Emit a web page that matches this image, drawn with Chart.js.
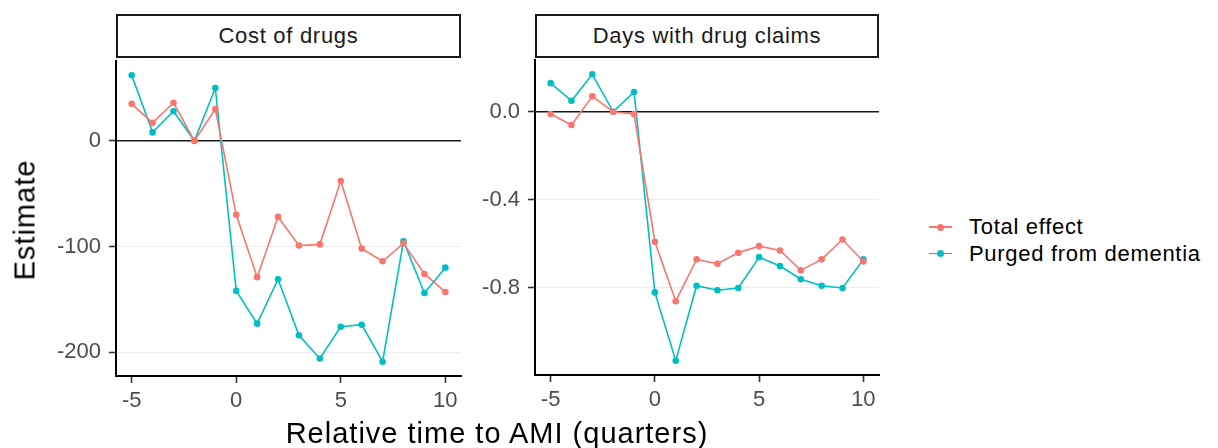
<!DOCTYPE html>
<html>
<head>
<meta charset="utf-8">
<script src="https://cdn.jsdelivr.net/npm/chart.js@4/dist/chart.umd.min.js"></script>
<style>
  body { margin: 0; background: #fff; }
  #wrap { position: relative; width: 1218px; height: 448px; overflow: hidden; font-family: "Liberation Sans", Arial, sans-serif; }
  canvas { position: absolute; top: 0; }
  .strip { position: absolute; top: 14px; height: 44px; box-sizing: border-box; border: 2px solid #1a1a1a; background: #fff;
           display: flex; align-items: center; justify-content: center; font-size: 22px; letter-spacing: 0.7px; color: #1a1a1a; }
  .title { position: absolute; font-size: 29px; line-height: 29px; letter-spacing: 1px; color: #000; white-space: nowrap; }
  .leg { position: absolute; left: 929px; height: 24px; display: flex; align-items: center; white-space: nowrap; }
  .leg .key { position: relative; width: 23px; height: 24px; margin-right: 17px; }
  .leg .key .ln { position: absolute; left: 0; right: 0; top: 11px; height: 1.7px; }
  .leg .key .pt { position: absolute; left: 8px; top: 8.5px; width: 7px; height: 7px; border-radius: 50%; }
  .leg span { font-size: 22px; letter-spacing: 0.7px; color: #000; }
</style>
</head>
<body>
<div id="wrap">
  <canvas id="c1" width="470" height="448" style="left:0px"></canvas>
  <canvas id="c2" width="435" height="448" style="left:465px"></canvas>
</div>
<script>
// data
const quarters = [-5, -4, -3, -2, -1, 0, 1, 2, 3, 4, 5, 6, 7, 8, 9, 10];
const costTotal = [35, 17, 36, 0, 30, -70, -129, -72, -99, -98, -38, -102, -114, -97, -126, -143];
const costPurged = [62, 8, 28, 0, 50, -142, -173, -131, -184, -206, -176, -174, -209, -95, -144, -120];
const daysTotal = [-0.01, -0.06, 0.07, 0.0, -0.01, -0.59, -0.86, -0.67, -0.69, -0.64, -0.61, -0.63, -0.72, -0.67, -0.58, -0.68];
const daysPurged = [0.13, 0.05, 0.17, 0.0, 0.09, -0.82, -1.13, -0.79, -0.81, -0.80, -0.66, -0.70, -0.76, -0.79, -0.80, -0.67];

const seriesNames = ['Total effect', 'Purged from dementia'];
const seriesColors = ['#F8766D', '#00BFC4'];
const panelTitles = ['Cost of drugs', 'Days with drug claims'];
const xTicks = [-5, 0, 5, 10];
const costTicks = [-200, -100, 0];
const daysTicks = [-0.8, -0.4, 0.0];

const FONT = "'Liberation Sans', Arial, sans-serif";

// ggplot style 5% expansion
function expand(vals) {
    let lo = Math.min(...vals), hi = Math.max(...vals);
    let d = (hi - lo) * 0.05;
    return [lo - d, hi + d];
}

const zeroLine = {
    id: 'zeroLine',
    beforeDatasetsDraw(chart) {
        const ctx = chart.ctx, a = chart.chartArea;
        const y = chart.scales.y.getPixelForValue(0);
        ctx.save();
        ctx.strokeStyle = '#1a1a1a';
        ctx.lineWidth = 1.5;
        ctx.beginPath();
        ctx.moveTo(a.left, y);
        ctx.lineTo(a.right, y);
        ctx.stroke();
        ctx.restore();
    }
};

function panel(id, total, purged, yTicks, fmt, box) {
    const xr = expand(quarters);
    const yr = expand(total.concat(purged));
    const sets = [total, purged].map(function(vals, i) {
        return {
            label: seriesNames[i],
            data: quarters.map(function(q, k) { return { x: q, y: vals[k] }; }),
            borderColor: seriesColors[i],
            backgroundColor: seriesColors[i],
            pointBackgroundColor: seriesColors[i],
            borderWidth: 1.6,
            pointRadius: 3.3,
            pointBorderWidth: 0,
            tension: 0
        };
    });
    return new Chart(document.getElementById(id), {
        type: 'line',
        data: { datasets: sets },
        plugins: [zeroLine],
        options: {
            responsive: false,
            animation: false,
            devicePixelRatio: 1,
            layout: { padding: { top: box.top, right: box.right, left: 0, bottom: 0 } },
            plugins: { legend: { display: false }, tooltip: { enabled: false } },
            scales: {
                x: {
                    type: 'linear',
                    min: xr[0], max: xr[1],
                    afterBuildTicks: function(s) { s.ticks = xTicks.map(function(v) { return { value: v }; }); },
                    afterFit: function(s) { s.height = box.xh; },
                    border: { display: true, color: '#000', width: 2 },
                    grid: { drawOnChartArea: false, drawTicks: true, tickLength: 7, tickColor: '#333', tickWidth: 1.6 },
                    ticks: { color: '#4D4D4D', padding: 5, maxRotation: 0, font: { family: FONT, size: 22 } }
                },
                y: {
                    min: yr[0], max: yr[1],
                    afterBuildTicks: function(s) { s.ticks = yTicks.map(function(v) { return { value: v }; }); },
                    afterFit: function(s) { s.width = box.yw; },
                    border: { display: true, color: '#000', width: 2 },
                    grid: { color: '#EDEDED', lineWidth: 1, tickLength: 7, tickColor: '#333', tickWidth: 1.6 },
                    ticks: { color: '#4D4D4D', padding: 8, font: { family: FONT, size: 22 }, callback: fmt }
                }
            }
        }
    });
}

panel('c1', costTotal, costPurged, costTicks, function(v) { return String(v); }, { top: 61, right: 9, xh: 72, yw: 116 });
panel('c2', daysTotal, daysPurged, daysTicks, function(v) { return v.toFixed(1); }, { top: 60, right: 21, xh: 73, yw: 70 });

// strips, axis titles and legend
const wrap = document.getElementById('wrap');
const strips = [{ left: 116, width: 345 }, { left: 535, width: 344 }];
panelTitles.forEach(function(t, i) {
    wrap.insertAdjacentHTML('beforeend', '<div class="strip" style="left:' + strips[i].left + 'px;width:' + strips[i].width + 'px">' + t + '</div>');
});
wrap.insertAdjacentHTML('beforeend', '<div class="title" style="left:25px;top:220px;transform:translate(-50%,-50%) rotate(-90deg)">Estimate</div>');
wrap.insertAdjacentHTML('beforeend', '<div class="title" style="left:497px;top:419px;transform:translateX(-50%)">Relative time to AMI (quarters)</div>');
seriesNames.forEach(function(n, i) {
    wrap.insertAdjacentHTML('beforeend',
        '<div class="leg" style="top:' + (215 + i * 26.5) + 'px"><div class="key"><div class="ln" style="background:' + seriesColors[i] +
        '"></div><div class="pt" style="background:' + seriesColors[i] + '"></div></div><span>' + n + '</span></div>');
});
</script>
</body>
</html>
